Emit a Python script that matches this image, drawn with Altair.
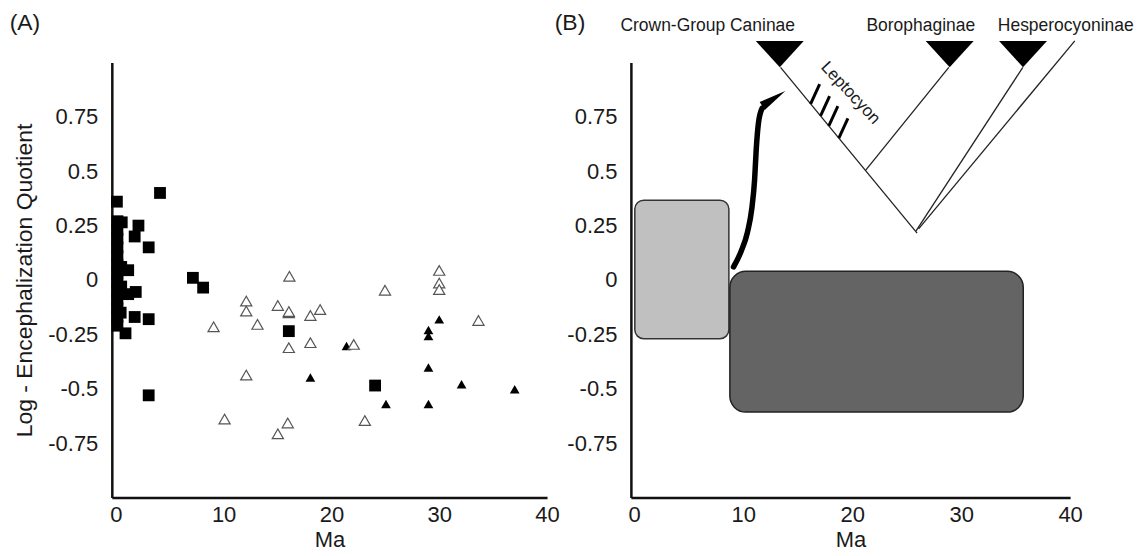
import altair as alt
import pandas as pd

FONT = "Liberation Sans"
INK = "#1a1a1a"

# ---------------- Panel A : Log-EQ versus age (Ma) ----------------
square_x = [4.10, 0.10, 0.55, 2.10, 1.75, 3.05, 1.15, 1.85, 1.15, 7.15, 8.10, 1.75, 3.05, 0.90, 3.05,
            16.05, 24.05,
            0.15, 0.15, 0.15, 0.15, 0.15, 0.15, 0.15, 0.15, 0.15, 0.15, 0.15, 0.15, 0.15,
            0.50, 0.50, 0.45]
square_y = [0.40, 0.36, 0.265, 0.25, 0.20, 0.15, 0.045, -0.055, -0.065, 0.01, -0.035, -0.17, -0.18, -0.245, -0.53,
            -0.235, -0.485,
            0.27, 0.23, 0.19, 0.15, 0.11, 0.07, 0.03, -0.01, -0.05, -0.09, -0.13, -0.17, -0.21,
            0.06, -0.03, -0.15]

open_tri_x = [16.10, 30.00, 30.00, 30.00, 24.97, 12.10, 12.10, 15.03, 16.05, 16.05, 18.05, 18.95, 9.07,
              13.14, 16.05, 18.05, 22.07, 12.10, 10.09, 15.95, 15.03, 23.10, 33.64]
open_tri_y = [0.017, 0.044, -0.014, -0.044, -0.047, -0.097, -0.143, -0.117, -0.151, -0.145, -0.163, -0.136, -0.215,
              -0.204, -0.311, -0.288, -0.296, -0.437, -0.639, -0.657, -0.707, -0.646, -0.186]

filled_tri_x = [30.00, 29.00, 29.00, 21.40, 29.00, 18.05, 32.07, 37.00, 25.06, 29.00]
filled_tri_y = [-0.181, -0.230, -0.257, -0.303, -0.402, -0.448, -0.479, -0.502, -0.570, -0.570]

x_ticks = [0, 10, 20, 30, 40]
y_ticks = [0.75, 0.5, 0.25, 0, -0.25, -0.5, -0.75]

panel_tags = ["(A)", "(B)"]
tag_a_pos = (-8.43, 1.18)
tag_b_pos = (-5.89, 1.18)

# ---------------- Panel B : schematic ----------------
box_x = [0.06, 8.78]
box_x2 = [8.69, 35.70]
box_y = [0.367, 0.040]
box_y2 = [-0.270, -0.607]

arrow_x = [9.12, 9.80, 10.40, 10.80, 11.05, 11.20, 11.40, 11.75]
arrow_y = [0.06, 0.13, 0.22, 0.33, 0.46, 0.60, 0.72, 0.79]
arrow_head = (12.81, 0.834)

branch_x = [13.43, 28.87, 35.66, 40.43]
branch_y = [0.977, 0.977, 0.977, 1.099]
branch_x2 = [25.96, 21.23, 25.85, 26.10]
branch_y2 = [0.215, 0.504, 0.225, 0.235]

lepto_x = [16.19, 17.10, 17.86, 18.78]
lepto_y = [0.809, 0.754, 0.708, 0.652]
lepto_x2 = [17.02, 17.93, 18.69, 19.61]
lepto_y2 = [0.900, 0.845, 0.799, 0.743]

clade_names = ["Crown-Group Caninae", "Borophaginae", "Hesperocyoninae"]
clade_tri_x = [13.36, 28.95, 35.68]
clade_tri_y = [1.038, 1.038, 1.038]
clade_label_x = [6.75, 26.30, 39.60]
clade_label_y = [1.166, 1.166, 1.166]

lepto_label = "Leptocyon"
lepto_label_pos = (19.85, 0.859)

# ---------------- helpers ----------------
def enc_x(domain, field="x"):
    return alt.X(f"{field}:Q",
                 scale=alt.Scale(domain=domain, nice=False, zero=False),
                 axis=alt.Axis(values=x_ticks, title="Ma", labelPadding=7, titlePadding=4,
                               labelFlush=False, labelOverlap=False))

def enc_y(title, field="y"):
    if title:
        ax = alt.Axis(values=y_ticks, title=title, labelPadding=14, titlePadding=11, titleFontSize=23,
                      labelExpr="'' + datum.value", labelOverlap=False)
    else:
        ax = alt.Axis(values=y_ticks, title=None, labelPadding=14,
                      labelExpr="'' + datum.value", labelOverlap=False)
    return alt.Y(f"{field}:Q", scale=alt.Scale(domain=[-1, 1], nice=False, zero=False), axis=ax)

A_DOM = [-0.37, 40]
B_DOM = [-0.3, 40]
YT = "Log - Encephalization Quotient"

sq = pd.DataFrame({"x": square_x, "y": square_y})
ot = pd.DataFrame({"x": open_tri_x, "y": open_tri_y})
ft = pd.DataFrame({"x": filled_tri_x, "y": filled_tri_y})
tag_a = pd.DataFrame({"x": [tag_a_pos[0]], "y": [tag_a_pos[1]], "t": [panel_tags[0]]})

a_filled = alt.Chart(ft).mark_point(shape="triangle-up", filled=True, color="black", size=95,
                                    opacity=1).encode(x=enc_x(A_DOM), y=enc_y(YT))
a_open = alt.Chart(ot).mark_point(shape="triangle-up", filled=True, fill="white", stroke="#555555",
                                  strokeWidth=1.2, size=125, opacity=1).encode(x=enc_x(A_DOM), y=enc_y(YT))
a_sq = alt.Chart(sq).mark_point(shape="square", filled=True, color="black", size=140,
                                opacity=1).encode(x=enc_x(A_DOM), y=enc_y(YT))
a_tag = alt.Chart(tag_a).mark_text(font=FONT, fontSize=23, color=INK, align="center",
                                   baseline="middle").encode(x=enc_x(A_DOM), y=enc_y(YT), text="t:N")

panel_a = alt.layer(a_filled, a_open, a_sq, a_tag).properties(width=436, height=436)

boxes = pd.DataFrame({"x": box_x, "x2": box_x2, "y": box_y, "y2": box_y2})
arrow = pd.DataFrame({"x": arrow_x, "y": arrow_y, "o": list(range(len(arrow_x)))})
head = pd.DataFrame({"x": [arrow_head[0]], "y": [arrow_head[1]]})
branches = pd.DataFrame({"x": branch_x, "y": branch_y, "x2": branch_x2, "y2": branch_y2})
lepto = pd.DataFrame({"x": lepto_x, "y": lepto_y, "x2": lepto_x2, "y2": lepto_y2})
clade_tri = pd.DataFrame({"x": clade_tri_x, "y": clade_tri_y})
clade_lab = pd.DataFrame({"x": clade_label_x, "y": clade_label_y, "t": clade_names})
lepto_lab = pd.DataFrame({"x": [lepto_label_pos[0]], "y": [lepto_label_pos[1]], "t": [lepto_label]})
tag_b = pd.DataFrame({"x": [tag_b_pos[0]], "y": [tag_b_pos[1]], "t": [panel_tags[1]]})

bx = lambda: enc_x(B_DOM)
by = lambda: enc_y(None)

b_light = alt.Chart(boxes.iloc[[0]]).mark_rect(cornerRadius=9, fill="#c0c0c0", stroke="#333333",
                                               strokeWidth=1.5).encode(x=bx(), x2="x2:Q", y=by(), y2="y2:Q")
b_dark = alt.Chart(boxes.iloc[[1]]).mark_rect(cornerRadius=16, fill="#646464", stroke="#222222",
                                              strokeWidth=1.5).encode(x=bx(), x2="x2:Q", y=by(), y2="y2:Q")
b_arrow = alt.Chart(arrow).mark_line(color="black", strokeWidth=5.5, interpolate="monotone",
                                     strokeCap="round").encode(x=bx(), y=by(), order="o:Q")
b_head = alt.Chart(head).mark_point(shape="M1,0L-1,-0.34L-1,0.34Z", filled=True, color="black",
                                    size=760, angle=327, opacity=1).encode(x=bx(), y=by())
b_branch = alt.Chart(branches).mark_rule(color="#222222", strokeWidth=1.3).encode(
    x=bx(), y=by(), x2="x2:Q", y2="y2:Q")
b_lepto = alt.Chart(lepto).mark_rule(color="black", strokeWidth=3).encode(
    x=bx(), y=by(), x2="x2:Q", y2="y2:Q")
b_ctri = alt.Chart(clade_tri).mark_point(shape="M-1,-0.55L1,-0.55L0,0.55Z", filled=True, color="black",
                                         size=2304, opacity=1).encode(x=bx(), y=by())
b_clab = alt.Chart(clade_lab).mark_text(font=FONT, fontSize=17.5, color=INK, align="center",
                                        baseline="middle").encode(x=bx(), y=by(), text="t:N")
b_llab = alt.Chart(lepto_lab).mark_text(font=FONT, fontSize=17, color=INK, align="center",
                                        baseline="middle", angle=47).encode(x=bx(), y=by(), text="t:N")
b_tag = alt.Chart(tag_b).mark_text(font=FONT, fontSize=23, color=INK, align="center",
                                   baseline="middle").encode(x=bx(), y=by(), text="t:N")

panel_b = alt.layer(b_light, b_dark, b_branch, b_lepto, b_arrow, b_head, b_ctri, b_clab, b_llab,
                    b_tag).properties(width=440, height=436)

chart = alt.hconcat(panel_a, panel_b, spacing=84, bounds="flush").properties(
    padding={"left": 1, "top": 3, "right": 0, "bottom": 0},
    background="white",
).configure_view(stroke=None).configure_axis(
    domainColor="#111111", domainWidth=2.5, ticks=False, tickSize=0, grid=False,
    labelFont=FONT, labelFontSize=22, labelColor=INK,
    titleFont=FONT, titleFontSize=22, titleFontWeight="normal", titleColor=INK,
)

chart.save("out.html", embed_options={"renderer": "svg", "actions": False})
